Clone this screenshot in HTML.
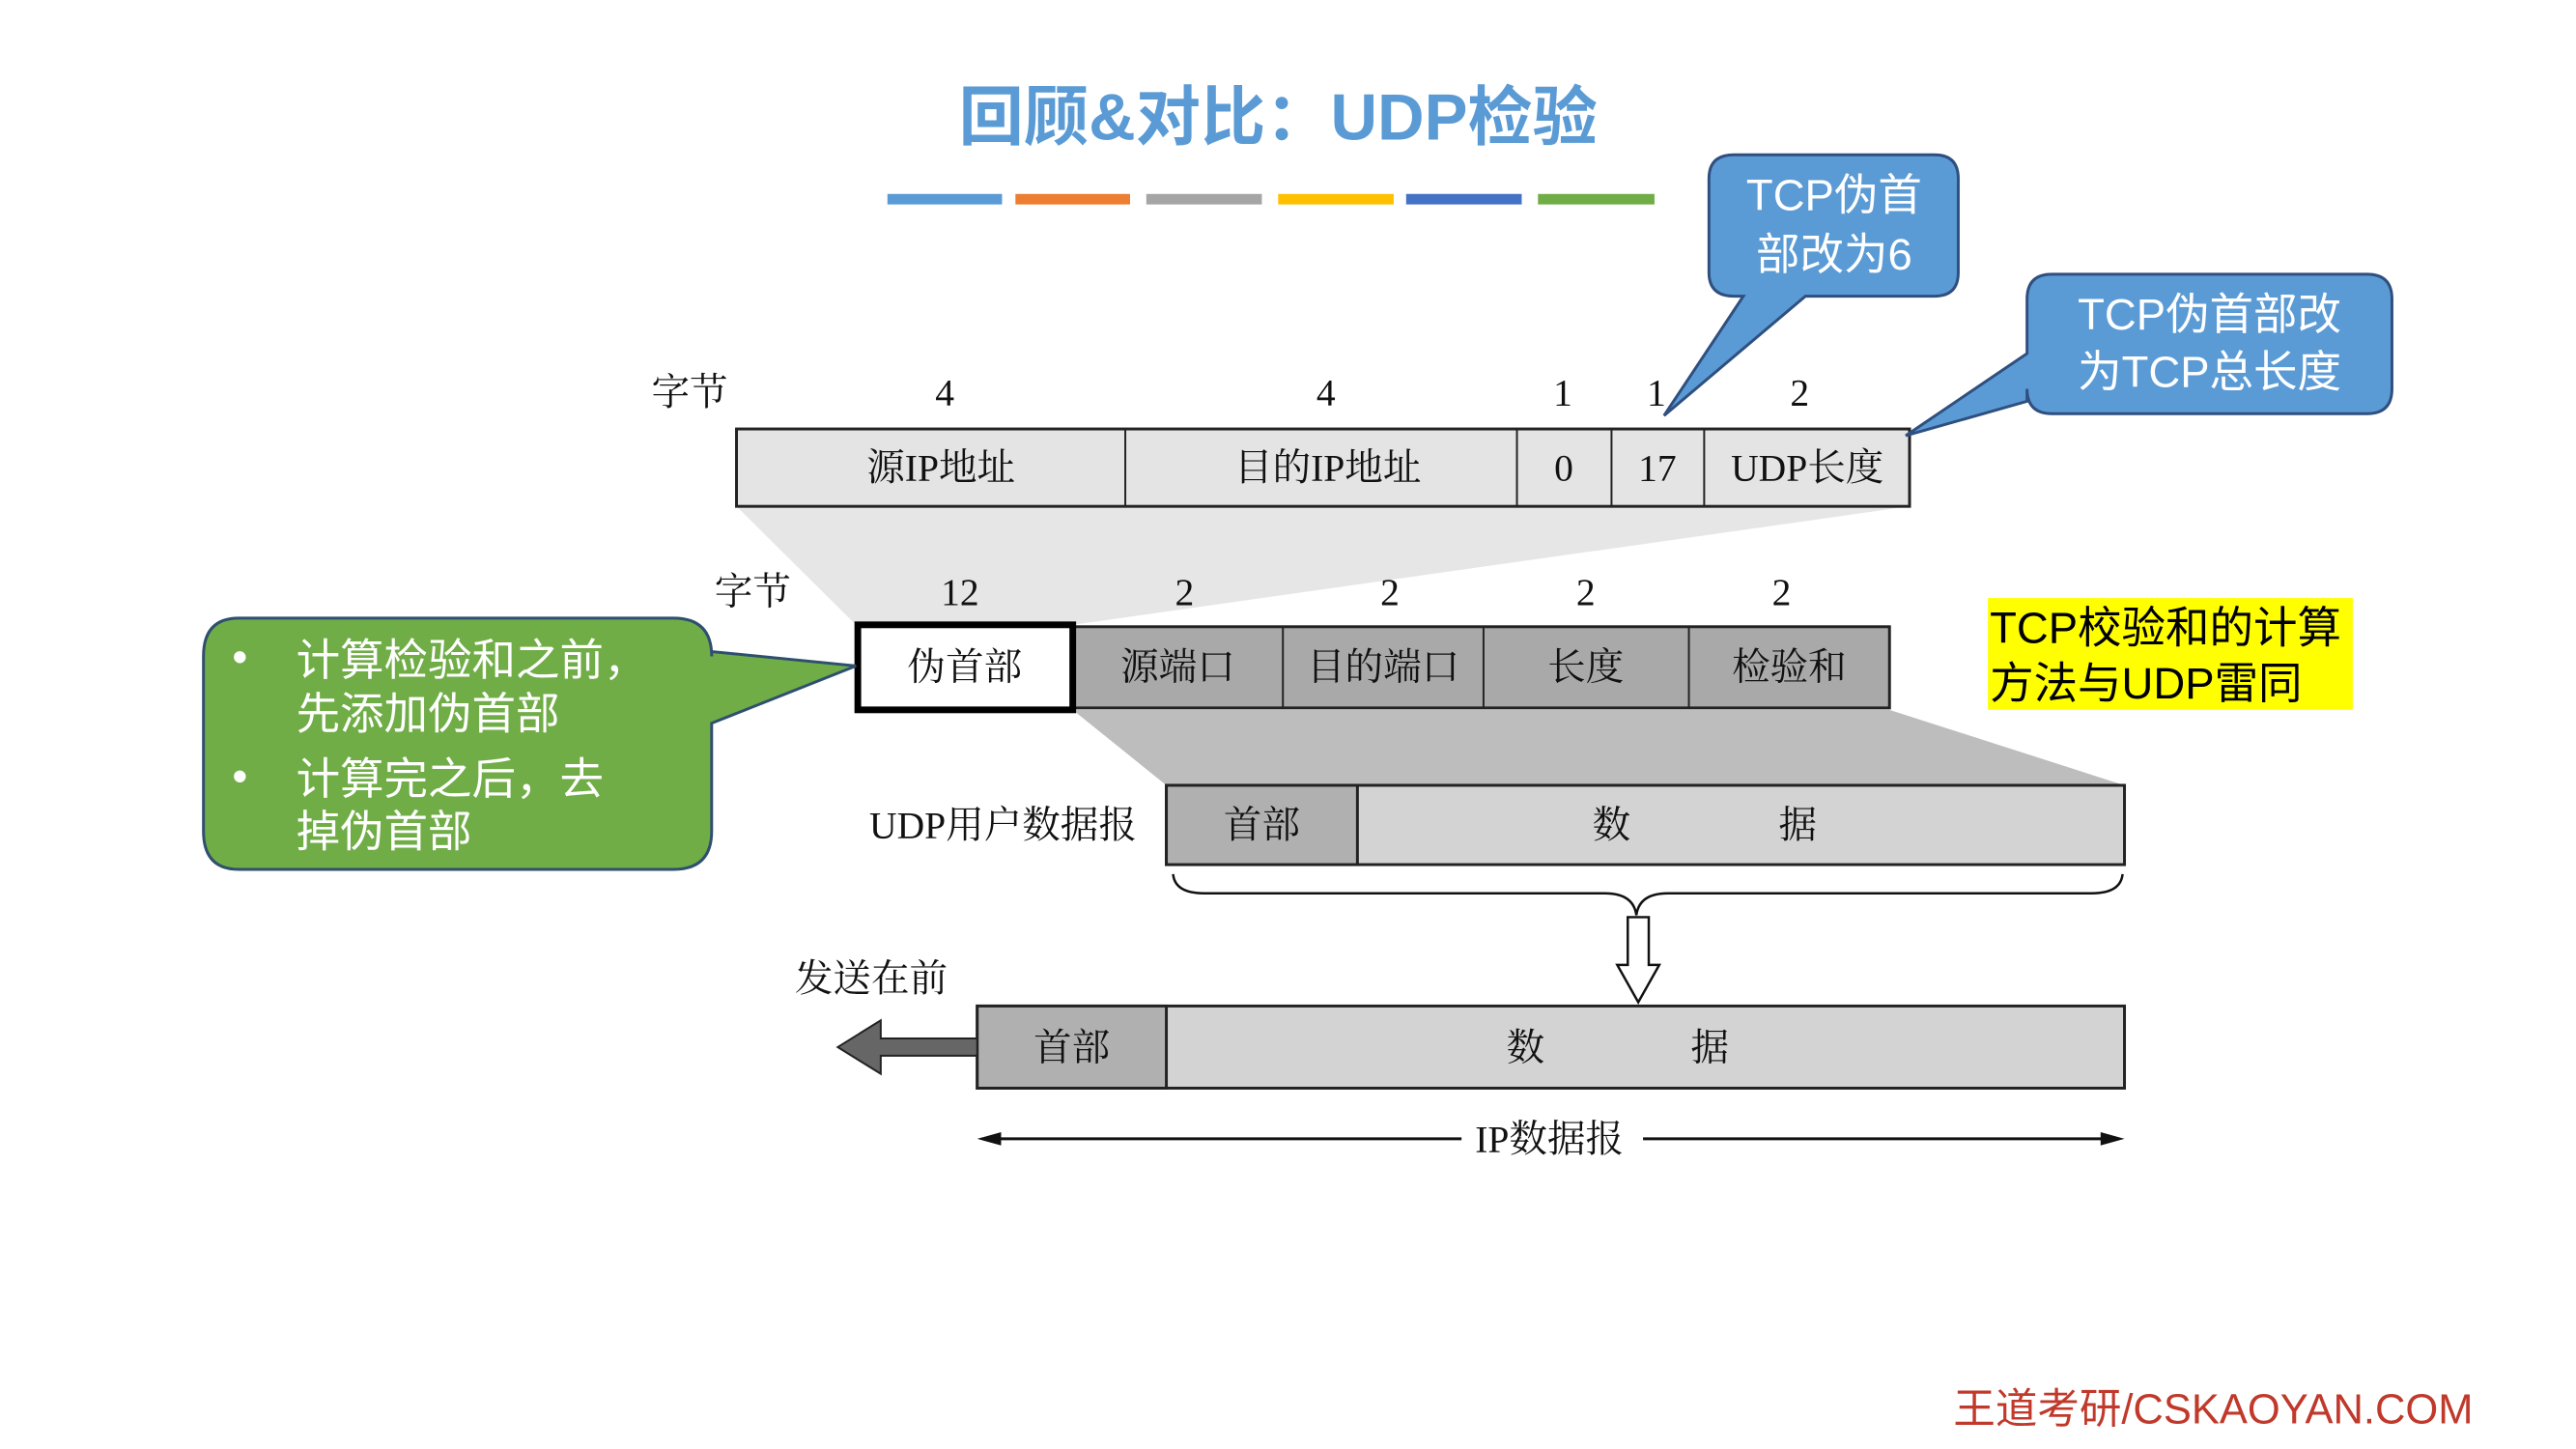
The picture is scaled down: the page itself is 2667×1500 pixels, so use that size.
<!DOCTYPE html>
<html><head><meta charset="utf-8"><style>
html,body{margin:0;padding:0;background:#fff}
svg{display:block}
.s{font-family:"Liberation Serif","Noto Serif CJK SC",serif;font-size:40px;fill:#111}
.a{font-family:"Liberation Sans","Noto Sans CJK SC",sans-serif}
</style></head><body>
<svg width="2667" height="1500" viewBox="0 0 2667 1500" xmlns="http://www.w3.org/2000/svg">
<g transform="scale(0.989)">
<text x="1338" y="146" text-anchor="middle" class="a" font-size="68" font-weight="bold" fill="#5b9bd5">回顾&amp;对比：UDP检验</text>
<rect x="929" y="203" width="120" height="11" fill="#5b9bd5"/>
<rect x="1063" y="203" width="120" height="11" fill="#ed7d31"/>
<rect x="1200" y="203" width="121" height="11" fill="#a5a5a5"/>
<rect x="1338" y="203" width="121" height="11" fill="#ffc000"/>
<rect x="1472" y="203" width="121" height="11" fill="#4472c4"/>
<rect x="1610" y="203" width="122" height="11" fill="#70ad47"/>

<polygon points="771,530 1999,530 1123,654 896,654" fill="#e6e6e6"/>
<polygon points="1123,743 1978,743 2224,822 1221,822" fill="#bdbdbd"/>

<text x="722" y="424" text-anchor="middle" class="s">字节</text>
<g class="s" text-anchor="middle">
<text x="989" y="424">4</text><text x="1388" y="424">4</text><text x="1636" y="424">1</text><text x="1734" y="424">1</text><text x="1884" y="424">2</text>
</g>
<rect x="771" y="449" width="1228" height="81" fill="#e4e4e4" stroke="#222" stroke-width="3"/>
<g stroke="#222" stroke-width="2"><line x1="1178" y1="449" x2="1178" y2="530"/><line x1="1588" y1="449" x2="1588" y2="530"/><line x1="1687" y1="449" x2="1687" y2="530"/><line x1="1784" y1="449" x2="1784" y2="530"/></g>
<g class="s" text-anchor="middle">
<text x="985" y="503">源IP地址</text><text x="1390" y="503">目的IP地址</text><text x="1637" y="503">0</text><text x="1735" y="503">17</text><text x="1892" y="503">UDP长度</text>
</g>

<text x="788" y="633" text-anchor="middle" class="s">字节</text>
<g class="s" text-anchor="middle">
<text x="1005" y="633">12</text><text x="1240" y="633">2</text><text x="1455" y="633">2</text><text x="1660" y="633">2</text><text x="1865" y="633">2</text>
</g>
<rect x="1123" y="656" width="855" height="85" fill="#a9a9a9" stroke="#222" stroke-width="3"/>
<g stroke="#222" stroke-width="2"><line x1="1343" y1="656" x2="1343" y2="741"/><line x1="1553" y1="656" x2="1553" y2="741"/><line x1="1768" y1="656" x2="1768" y2="741"/></g>
<rect x="898" y="654" width="225" height="89" fill="#fff" stroke="#000" stroke-width="7"/>
<g class="s" text-anchor="middle">
<text x="1010" y="712">伪首部</text><text x="1233" y="712">源端口</text><text x="1448" y="712">目的端口</text><text x="1660" y="712">长度</text><text x="1873" y="712">检验和</text>
</g>

<text x="1190" y="877" text-anchor="end" class="s">UDP用户数据报</text>
<rect x="1221" y="822" width="1003" height="83" fill="#d3d3d3" stroke="#222" stroke-width="3"/>
<rect x="1221" y="822" width="200" height="83" fill="#b0b0b0" stroke="#222" stroke-width="3"/>
<g class="s" text-anchor="middle"><text x="1321" y="877">首部</text><text x="1687" y="877">数</text><text x="1882" y="877">据</text></g>

<path d="M1228,915 Q1230,935 1260,935 L1680,935 Q1710,935 1713,958 Q1716,935 1746,935 L2190,935 Q2220,935 2222,915" fill="none" stroke="#111" stroke-width="2.5"/>
<path d="M1704,960 L1726,960 L1726,1010 L1737,1010 L1715,1049 L1693,1010 L1704,1010 Z" fill="#fff" stroke="#111" stroke-width="2.5"/>

<text x="912" y="1038" text-anchor="middle" class="s">发送在前</text>
<rect x="1023" y="1053" width="1201" height="86" fill="#d3d3d3" stroke="#222" stroke-width="3"/>
<rect x="1023" y="1053" width="198" height="86" fill="#b0b0b0" stroke="#222" stroke-width="3"/>
<g class="s" text-anchor="middle"><text x="1122" y="1110">首部</text><text x="1597" y="1110">数</text><text x="1790" y="1110">据</text></g>
<path d="M1023,1087 L922,1087 L922,1068 L877,1096 L922,1124 L922,1105 L1023,1105 Z" fill="#666" stroke="#222" stroke-width="2"/>

<line x1="1030" y1="1192" x2="1530" y2="1192" stroke="#111" stroke-width="3"/>
<line x1="1720" y1="1192" x2="2215" y2="1192" stroke="#111" stroke-width="3"/>
<polygon points="1023,1192 1048,1185 1048,1199" fill="#111"/>
<polygon points="2224,1192 2199,1185 2199,1199" fill="#111"/>
<text x="1622" y="1206" text-anchor="middle" class="s">IP数据报</text>

<path d="M250,647 L705,647 Q745,647 745,687 L745,682 L896,697 L745,757 L745,870 Q745,910 705,910 L250,910 Q213,910 213,870 L213,687 Q213,647 250,647 Z" fill="#70ad47" stroke="#2f4f6f" stroke-width="3"/>
<g class="a" font-size="46" fill="#fff">
<text x="243" y="703">•</text><text x="310" y="707">计算检验和之前，</text>
<text x="310" y="763">先添加伪首部</text>
<text x="243" y="828">•</text><text x="310" y="831">计算完之后，去</text>
<text x="310" y="886">掉伪首部</text>
</g>

<path d="M1815,162 L2025,162 Q2050,162 2050,187 L2050,285 Q2050,310 2025,310 L1890,310 L1742,435 L1825,310 L1815,310 Q1789,310 1789,285 L1789,187 Q1789,162 1815,162 Z" fill="#5b9bd5" stroke="#2f4f7f" stroke-width="3"/>
<g class="a" font-size="46" fill="#fff" text-anchor="middle"><text x="1920" y="220">TCP伪首</text><text x="1920" y="282">部改为6</text></g>

<path d="M2148,287 L2478,287 Q2504,287 2504,313 L2504,407 Q2504,433 2478,433 L2148,433 Q2122,433 2122,407 L2122,420 L1995,456 L2122,370 L2122,313 Q2122,287 2148,287 Z" fill="#5b9bd5" stroke="#2f4f7f" stroke-width="3"/>
<g class="a" font-size="46" fill="#fff" text-anchor="middle"><text x="2313" y="345">TCP伪首部改</text><text x="2313" y="405">为TCP总长度</text></g>

<rect x="2081" y="626" width="382" height="117" fill="#ffff00"/>
<g class="a" font-size="46" fill="#000"><text x="2083" y="673">TCP校验和的计算</text><text x="2083" y="731">方法与UDP雷同</text></g>

<text x="2589" y="1490" text-anchor="end" class="a" font-size="44" fill="#c0392b">王道考研/CSKAOYAN.COM</text>
</g>
</svg>
</body></html>
